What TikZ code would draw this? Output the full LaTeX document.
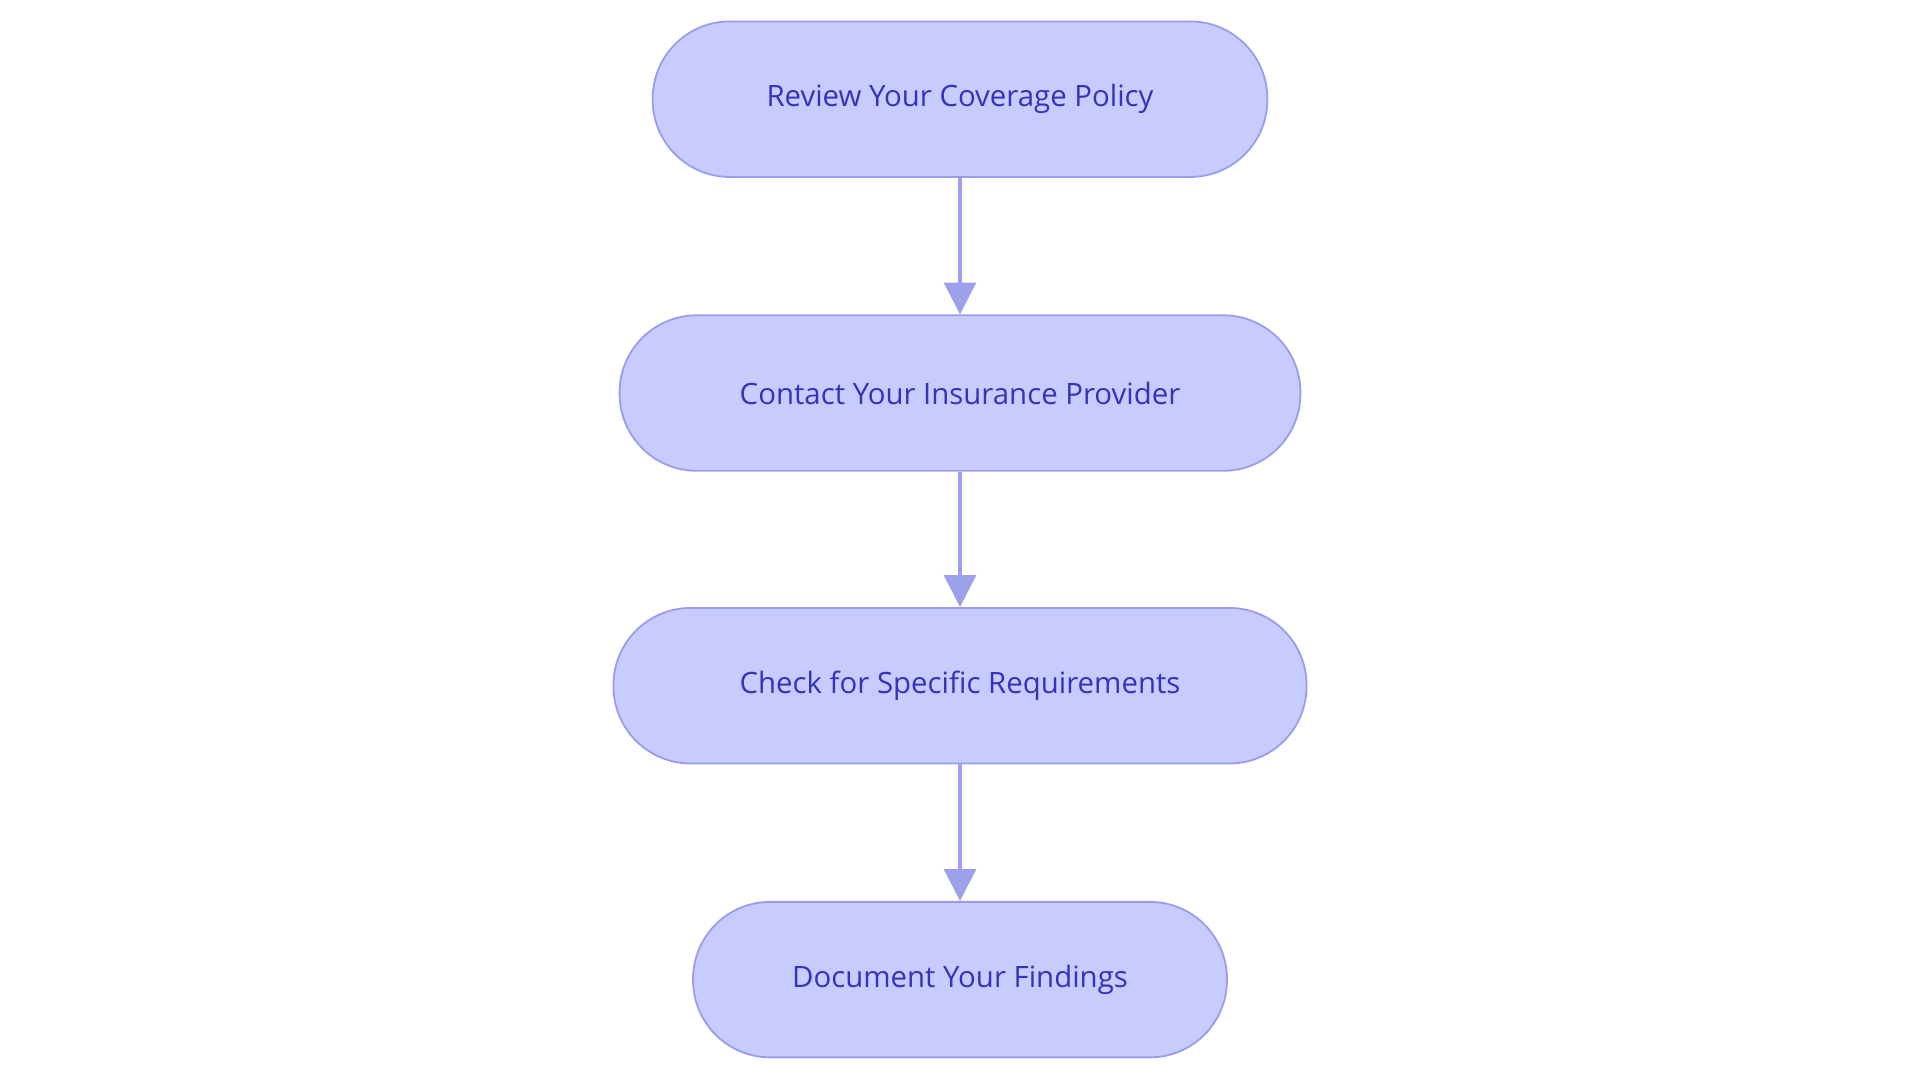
\documentclass[tikz,border=0pt]{standalone}
\usepackage{fontspec}
\setmainfont{Open Sans}
\usetikzlibrary{arrows.meta}
\definecolor{fillc}{HTML}{C8CBFE}
\definecolor{linec}{HTML}{9A9EEA}
\definecolor{textc}{HTML}{3333BB}
\definecolor{arrc}{HTML}{9DA1EC}
\begin{document}
\begin{tikzpicture}[x=1pt,y=-1pt,
  box/.style={draw=linec,line width=1.5pt,fill=fillc,rounded corners=63pt,minimum height=127pt,text=textc,font=\fontsize{24}{28}\selectfont,inner sep=0pt},
  arr/.style={draw=arrc,line width=3pt,-{Triangle[length=26pt,width=26pt]}}]
\useasboundingbox (0,0) rectangle (1568,884);
\node[box,minimum width=502pt] (a) at (784,81) {Review Your Coverage Policy};
\node[box,minimum width=556pt] (b) at (784,321) {Contact Your Insurance Provider};
\node[box,minimum width=566pt] (c) at (784,560) {Check for Specific Requirements};
\node[box,minimum width=436pt] (d) at (784,800) {Document Your Findings};
\draw[arr] (a) -- (b);
\draw[arr] (b) -- (c);
\draw[arr] (c) -- (d);
\end{tikzpicture}
\end{document}
